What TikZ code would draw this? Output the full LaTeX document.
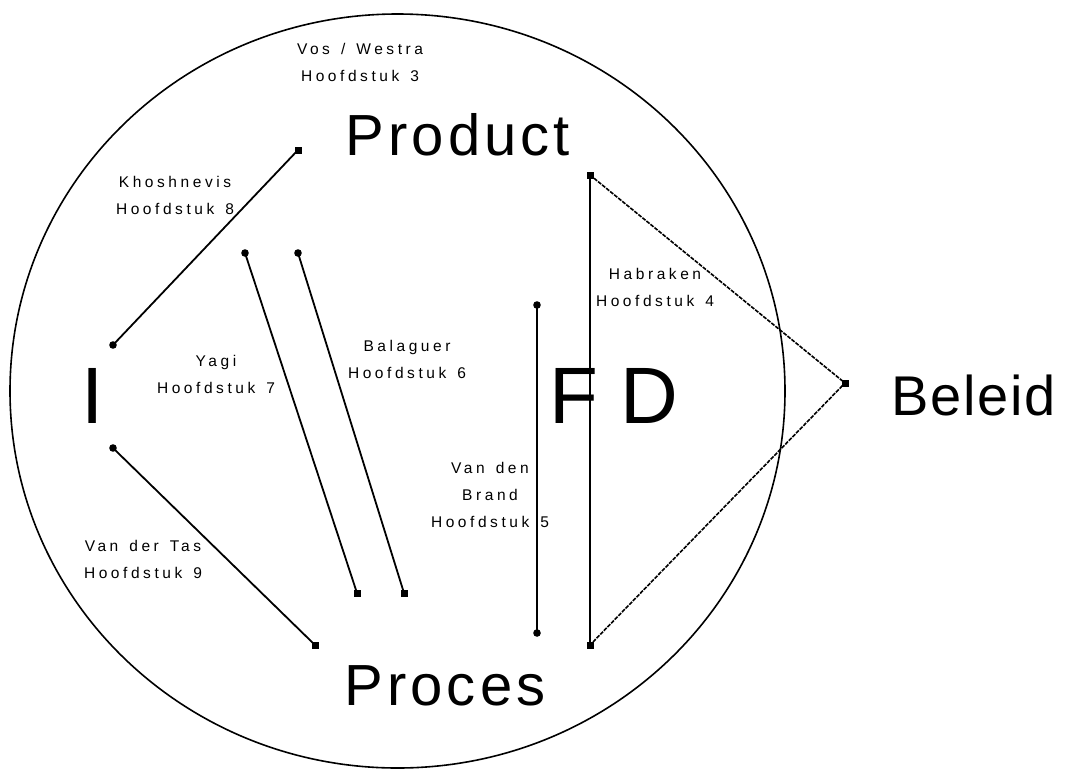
\documentclass[tikz,border=0pt]{standalone}
\usepackage{fontspec}
\setmainfont{Liberation Sans}
\newfontfamily\smallspaced[LetterSpace=23,WordSpace=1.4]{Liberation Sans}
\newfontfamily\bigspaced[LetterSpace=7]{Liberation Sans}
\newfontfamily\bigplain[LetterSpace=3]{Liberation Sans}
\begin{document}
\begin{tikzpicture}[x=1pt,y=-1pt,
  lbl/.style={inner sep=0pt,anchor=base,align=center,font=\smallspaced\fontsize{15.5}{27}\selectfont},
  big/.style={inner sep=0pt,anchor=base,font=\bigspaced\fontsize{58}{60}\selectfont},
  huge/.style={inner sep=0pt,anchor=base,font=\fontsize{80}{80}\selectfont},
  link/.style={line width=1.8pt},
  dotline/.style={line width=1.6pt,dash pattern=on 4pt off 1.2pt},
]
\useasboundingbox (0,0) rectangle (1065,769);
% circle
\draw[line width=1.6pt] (397.5,391) ellipse [x radius=387.5, y radius=377];
% end points
\coordinate (k1) at (298,150);
\coordinate (k2) at (113,345);
\coordinate (y1) at (245,253);
\coordinate (y2) at (357,593);
\coordinate (b1) at (298,253);
\coordinate (b2) at (404,593);
\coordinate (t1) at (113,448);
\coordinate (t2) at (315,645);
\coordinate (v1) at (537,305);
\coordinate (v2) at (537,633);
\coordinate (h1) at (590,175);
\coordinate (h2) at (590,645);
\coordinate (bl) at (845,383);
% links
\draw[link] (k1) -- (k2);
\draw[link] (y1) -- (y2);
\draw[link] (b1) -- (b2);
\draw[link] (t1) -- (t2);
\draw[link] (v1) -- (v2);
\draw[link] (h1) -- (h2);
\draw[dotline] (h1) -- (bl) -- (h2);
% markers
\foreach \p in {k1,y2,b2,t2,h1,h2,bl}
  \fill ([shift={(-3.5,-3.5)}]\p) rectangle ([shift={(3.5,3.5)}]\p);
\foreach \p in {k2,y1,b1,t1,v1,v2}
  \fill (\p) circle (3.8);
% labels (anchor = baseline of last line)
\node[lbl] (l3) at (360,81) {Vos / Westra\\Hoofdstuk 3};
\node[lbl] (l8) at (175,214) {Khoshnevis\\Hoofdstuk 8};
\node[lbl] (l7) at (216,393) {Yagi\\Hoofdstuk 7};
\node[lbl] (l6) at (407,378) {Balaguer\\Hoofdstuk 6};
\node[lbl] (l4) at (655,306) {Habraken\\Hoofdstuk 4};
\node[lbl] (l5) at (490,527) {Van den\\Brand\\Hoofdstuk 5};
\node[lbl] (l9) at (143,578) {Van der Tas\\Hoofdstuk 9};
% big words
\node[big] (prod) at (458,155) {Product};
\node[big] (proc) at (445,705) {Proces};
\node[inner sep=0pt,anchor=base,font=\bigplain\fontsize{56}{60}\selectfont] (bel) at (974,415) {Beleid};
\node[huge] (I) at (93,423) {I};
\node[huge] (F) at (574,423) {F};
\node[huge] (D) at (649,423) {D};
\end{tikzpicture}
\end{document}
